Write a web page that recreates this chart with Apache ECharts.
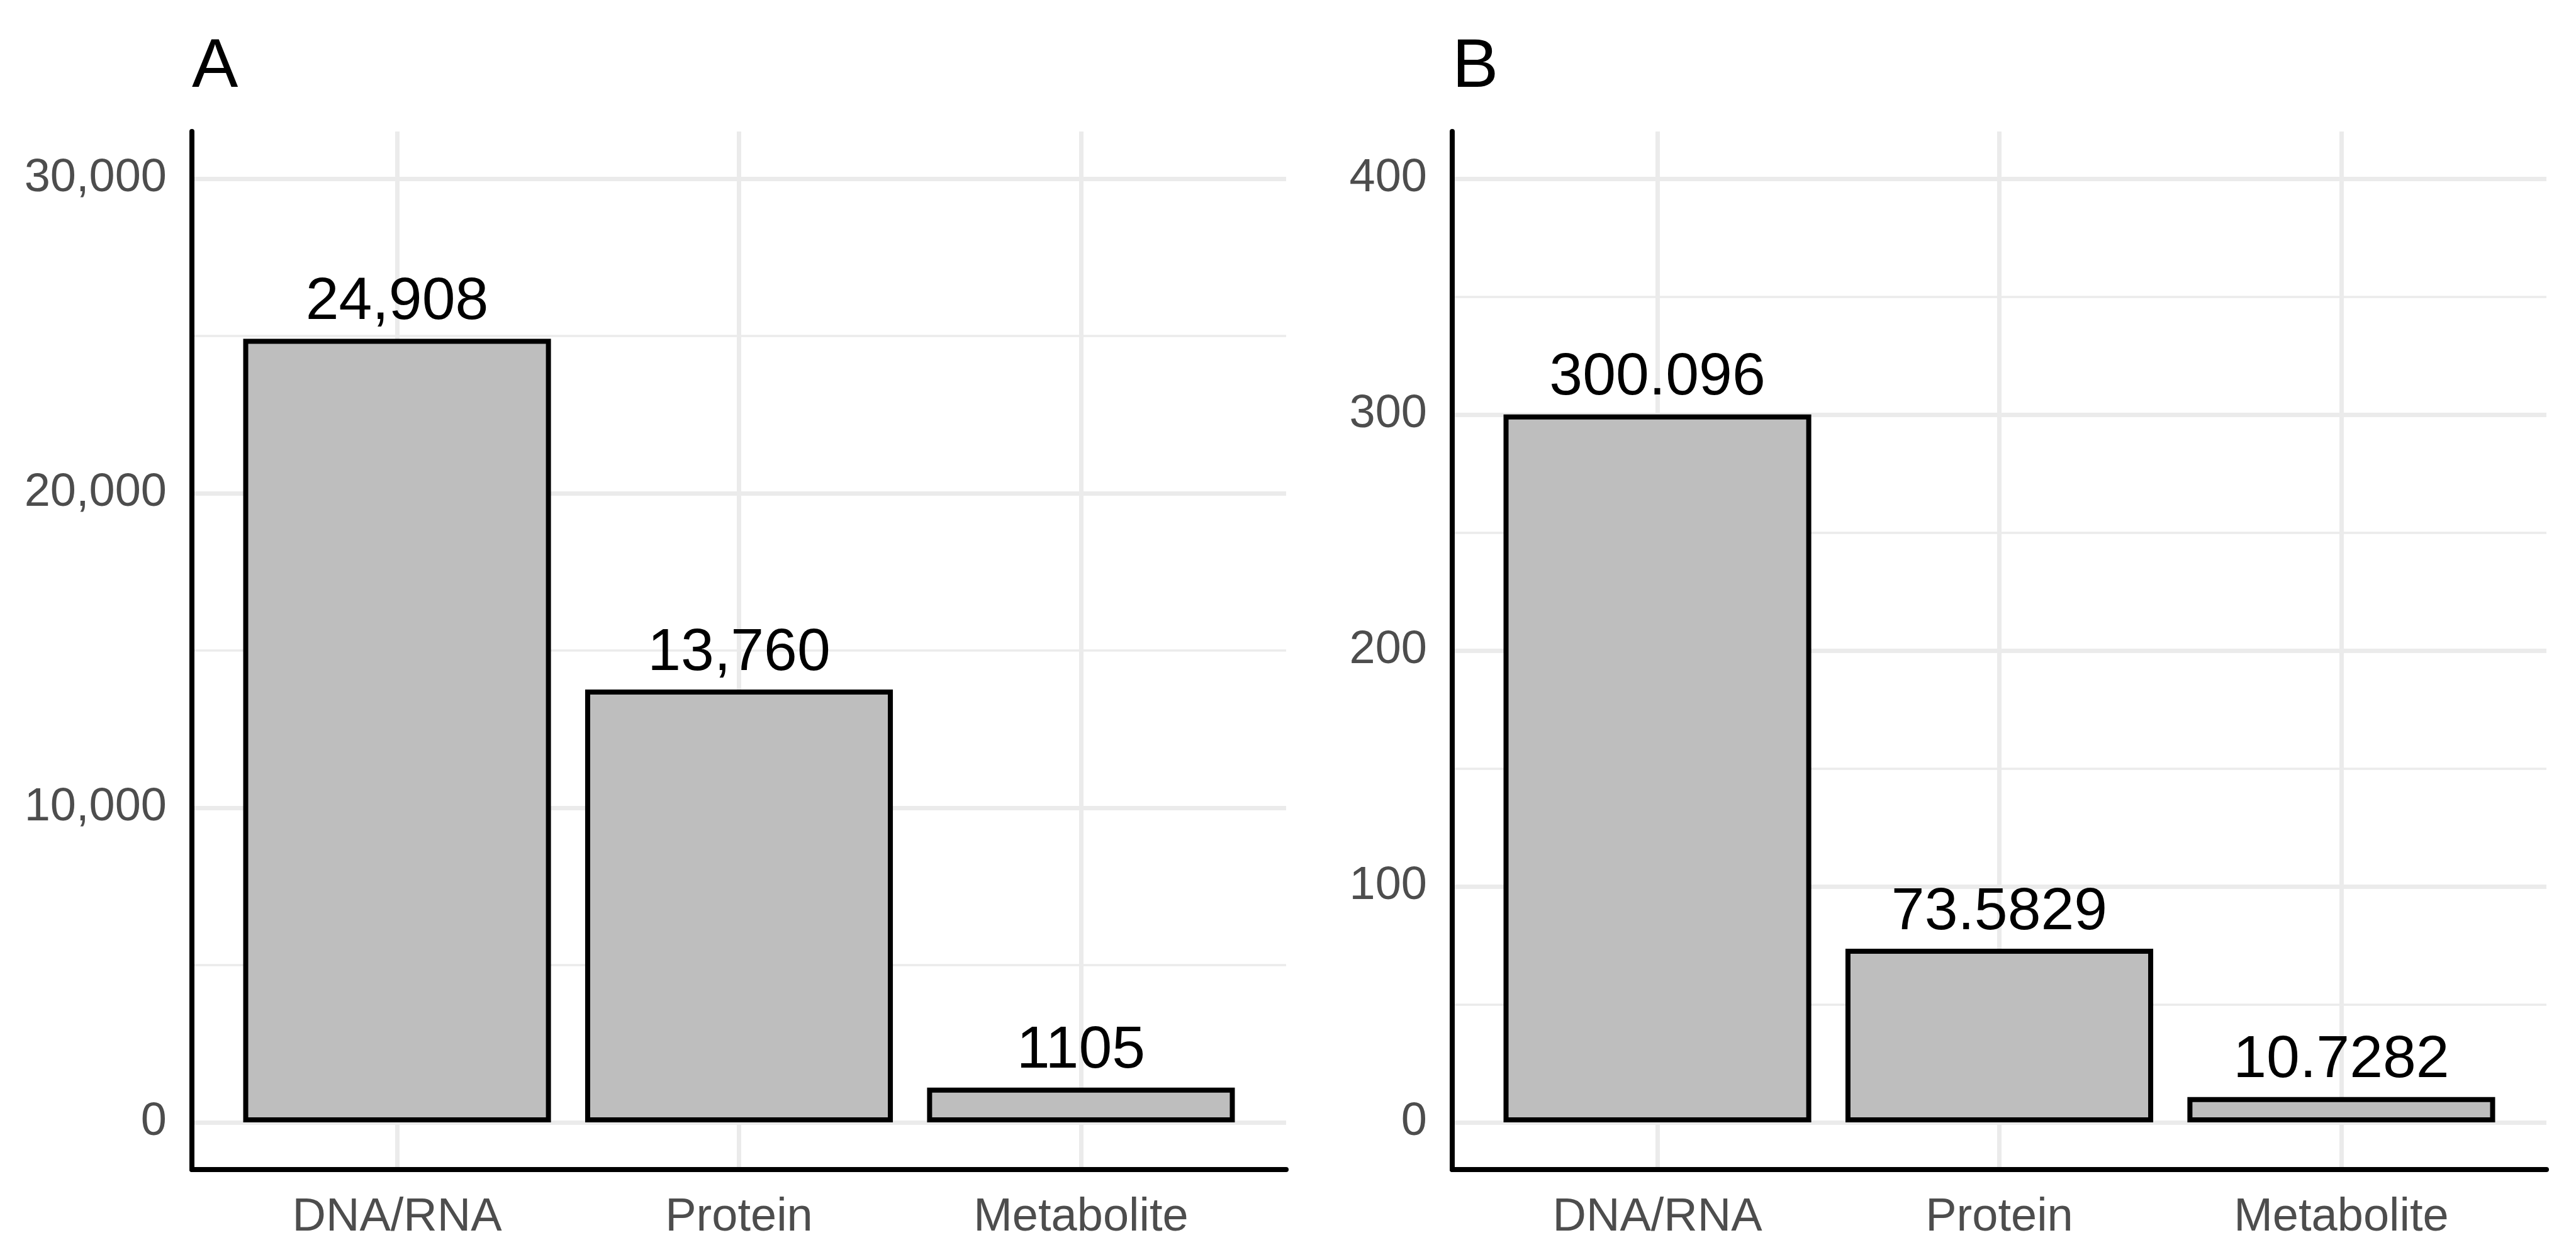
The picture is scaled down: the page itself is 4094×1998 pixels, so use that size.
<!DOCTYPE html>
<html>
<head>
<meta charset="utf-8">
<script src="https://cdn.jsdelivr.net/npm/echarts@6/dist/echarts.min.js"></script>
<style>
html,body{margin:0;padding:0;background:#fff;}
#chart{width:4094px;height:1998px;}
</style>
</head>
<body>
<div id="chart"></div>
<script>
const categories = ['DNA/RNA', 'Protein', 'Metabolite'];
const positions = [1, 2, 3];
const valuesA = [24908, 13760, 1105];
const labelsA = ['24,908', '13,760', '1105'];
const valuesB = [300.096, 73.5829, 10.7282];
const labelsB = ['300.096', '73.5829', '10.7282'];
const yTicksA = [0, 10000, 20000, 30000];
const yMinorA = [5000, 15000, 25000];
const yTicksB = [0, 100, 200, 300, 400];
const yMinorB = [50, 150, 250, 350];
const panelTitles = ['A', 'B'];

const FONT = 'Liberation Sans, Arial, sans-serif';
const chart = echarts.init(document.getElementById('chart'), null, {renderer: 'canvas'});

const grids = [
  {left: 305, right: 2050, top: 209, bottom: 139},
  {left: 2308, right: 47, top: 209, bottom: 139}
];

function xAxisFor(gi) {
  return {
    type: 'value', gridIndex: gi, min: 0.4, max: 3.6,
    axisLine: {show: true, onZero: false, lineStyle: {color: '#000', width: 8}},
    axisTick: {show: false, customValues: positions},
    axisLabel: {
      show: true, customValues: positions, margin: 40,
      color: '#4d4d4d', fontSize: 74, fontFamily: FONT,
      formatter: v => categories[positions.indexOf(Math.round(v))] || ''
    },
    splitLine: {show: true, lineStyle: {color: '#ebebeb', width: 7}}
  };
}
function yAxesFor(gi, min, max, ticks, minor, fmt) {
  return [
    {
      type: 'value', gridIndex: gi, min: min, max: max, position: 'left',
      axisLine: {show: true, onZero: false, lineStyle: {color: '#000', width: 8}},
      axisTick: {show: false, customValues: ticks},
      axisLabel: {show: true, customValues: ticks, margin: 40, color: '#4d4d4d', fontSize: 74, fontFamily: FONT, formatter: fmt},
      splitLine: {show: true, lineStyle: {color: '#ebebeb', width: 7}}
    },
    {
      type: 'value', gridIndex: gi, min: min, max: max, position: 'left',
      axisLine: {show: false}, axisTick: {show: false, customValues: minor},
      axisLabel: {show: false, customValues: minor},
      splitLine: {show: true, lineStyle: {color: '#ebebeb', width: 3.5}}
    }
  ];
}

function barSeries(gi, yi, values, labels) {
  return {
    type: 'bar', xAxisIndex: gi, yAxisIndex: yi, z: 5,
    data: values.map((v, i) => [positions[i], v]),
    barWidth: '90%',
    itemStyle: {color: '#bebebe', borderColor: '#000', borderWidth: 8},
    label: {
      show: true, position: 'top', distance: 10,
      color: '#000', fontSize: 95, fontFamily: FONT,
      formatter: p => labels[p.dataIndex]
    }
  };
}

const option = {
  backgroundColor: '#fff',
  animation: false,
  title: [
    {text: panelTitles[0], left: 300, top: 48, textStyle: {fontSize: 110, fontWeight: 'normal', color: '#000', fontFamily: FONT}},
    {text: panelTitles[1], left: 2303, top: 48, textStyle: {fontSize: 110, fontWeight: 'normal', color: '#000', fontFamily: FONT}}
  ],
  grid: grids,
  xAxis: [xAxisFor(0), xAxisFor(1)],
  yAxis: [
    ...yAxesFor(0, -1500, 31500, yTicksA, yMinorA, v => v.toLocaleString('en-US')),
    ...yAxesFor(1, -20, 420, yTicksB, yMinorB, v => String(v))
  ],
  series: [
    barSeries(0, 0, valuesA, labelsA),
    barSeries(1, 2, valuesB, labelsB)
  ]
};
chart.setOption(option);
</script>
</body>
</html>
